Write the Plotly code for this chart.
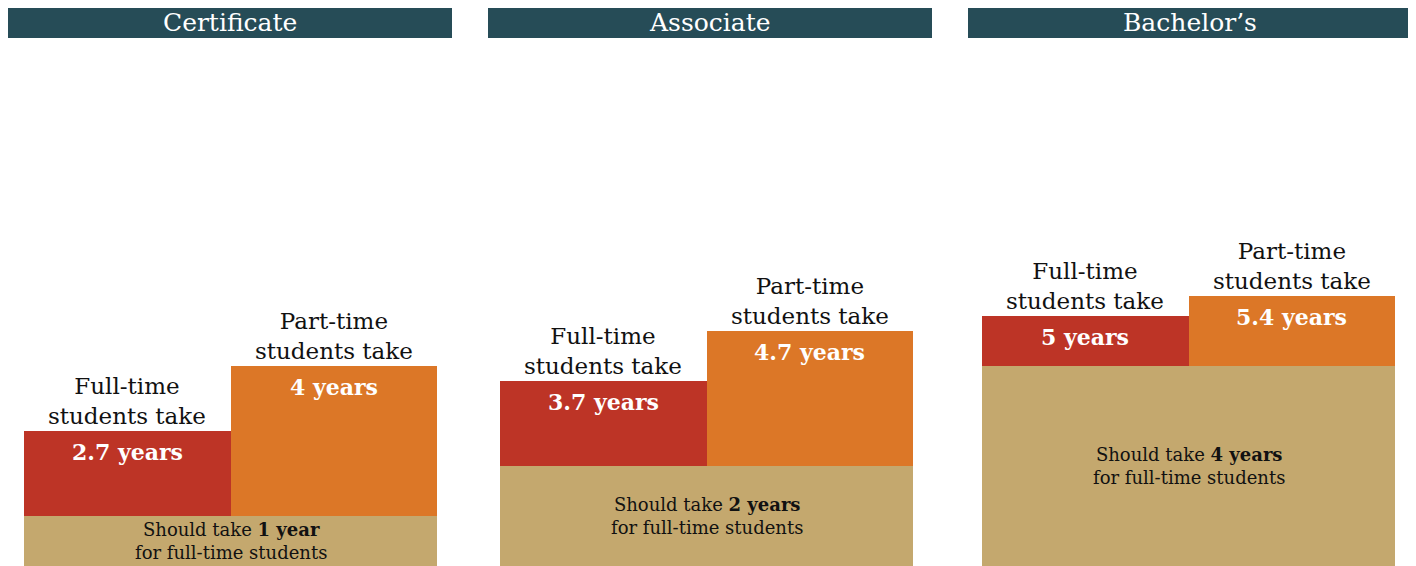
import plotly.graph_objects as go

degrees = ["Certificate", "Associate", "Bachelor\u2019s"]
should_take = [1, 2, 4]
full_time = [2.7, 3.7, 5]
part_time = [4, 4.7, 5.4]
should_labels = ["1 year", "2 years", "4 years"]
full_labels = ["2.7 years", "3.7 years", "5 years"]
part_labels = ["4 years", "4.7 years", "5.4 years"]

W, H = 1416, 566
OFF = 8  # page margin offset
FONT = "DejaVu Serif"
TAN, RED, ORANGE, HEAD = "#c4a86e", "#bd3426", "#dc7727", "#264c57"

panels = [(24, 437, 8, 452), (500, 913, 488, 932), (982, 1395, 968, 1412)]
PX_PER_YEAR = 50.0
y_lo = -OFF / PX_PER_YEAR
y_hi = y_lo + H / PX_PER_YEAR

fig = go.Figure()
shapes, annotations = [], []
for i, name in enumerate(degrees):
    xa = "x" if i == 0 else f"x{i+1}"
    ya = "y" if i == 0 else f"y{i+1}"
    s, f, p = should_take[i], full_time[i], part_time[i]
    fig.add_trace(go.Bar(x=[1], y=[s + OFF / PX_PER_YEAR], base=[-OFF / PX_PER_YEAR], width=[2],
                         marker=dict(color=TAN, line_width=0),
                         xaxis=xa, yaxis=ya, showlegend=False, hoverinfo="skip"))
    fig.add_trace(go.Bar(x=[0.5], y=[f - s], base=[s], width=[1], marker=dict(color=RED, line_width=0),
                         xaxis=xa, yaxis=ya, showlegend=False, hoverinfo="skip"))
    fig.add_trace(go.Bar(x=[1.5], y=[p - s], base=[s], width=[1], marker=dict(color=ORANGE, line_width=0),
                         xaxis=xa, yaxis=ya, showlegend=False, hoverinfo="skip"))
    x0, x1, h0, h1 = [v - OFF for v in panels[i]]
    ax = dict(domain=[x0 / W, x1 / W], range=[0, 2], visible=False, fixedrange=True)
    ay = dict(domain=[0, 1], range=[y_lo, y_hi], visible=False, fixedrange=True)
    fig.update_layout(**{("xaxis" if i == 0 else f"xaxis{i+1}"): ax,
                         ("yaxis" if i == 0 else f"yaxis{i+1}"): ay})
    shapes.append(dict(type="rect", xref="paper", yref="paper", x0=h0 / W, x1=h1 / W,
                       y0=1 - 30 / H, y1=1, fillcolor=HEAD, line_width=0, layer="above"))
    annotations.append(dict(xref="paper", yref="paper", x=(h0 + h1) / 2 / W, y=1 - 15 / H,
                            text=name, showarrow=False, font=dict(family=FONT, size=25, color="white"),
                            xanchor="center", yanchor="middle"))
    for xc, top, lab, head in [(0.5, f, full_labels[i], "Full-time<br>students take"),
                               (1.5, p, part_labels[i], "Part-time<br>students take")]:
        annotations.append(dict(xref=xa, yref=ya, x=xc, y=top, text=head, showarrow=False,
                                font=dict(family=FONT, size=23, color="#111"),
                                xanchor="center", yanchor="bottom", yshift=0))
        annotations.append(dict(xref=xa, yref=ya, x=xc, y=top, text=f"<b>{lab}</b>", showarrow=False,
                                font=dict(family=FONT, size=22, color="white"),
                                xanchor="center", yanchor="top", yshift=-6))
    annotations.append(dict(xref=xa, yref=ya, x=1, y=s / 2, text=f"Should take <b>{should_labels[i]}</b><br>for full-time students",
                            showarrow=False, font=dict(family=FONT, size=18, color="#111"),
                            xanchor="center", yanchor="middle"))

fig.update_layout(width=W, height=H, margin=dict(l=0, r=0, t=0, b=0),
                  paper_bgcolor="white", plot_bgcolor="rgba(0,0,0,0)",
                  barmode="overlay", bargap=0, shapes=shapes, annotations=annotations)
fig.write_html("out.html")
